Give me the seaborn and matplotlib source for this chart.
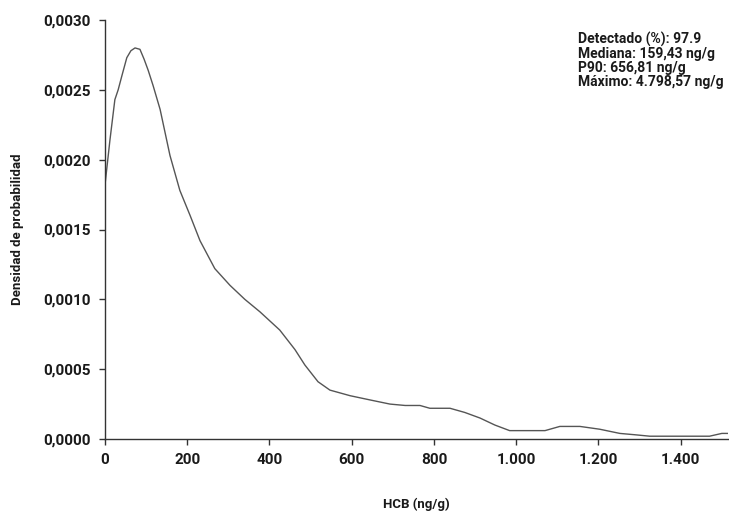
import matplotlib
matplotlib.use("Agg")
import matplotlib.pyplot as plt
import matplotlib.ticker as mticker
import seaborn as sns
import pandas as pd

hcb = [0, 12, 24, 32, 41, 53, 63, 73, 85, 95, 105, 117, 134, 158, 182, 207, 231, 267,
       304, 340, 377, 425, 462, 486, 518, 547, 596, 644, 693, 730, 766, 790, 839, 875,
       912, 948, 984, 1021, 1070, 1106, 1155, 1203, 1252, 1290, 1325, 1400, 1470, 1500, 1515]
density = [0.00182, 0.00214, 0.00243, 0.00250, 0.00260, 0.00273, 0.00278, 0.00280, 0.00279,
           0.00272, 0.00264, 0.00253, 0.00236, 0.00203, 0.00178, 0.00160, 0.00142, 0.00122,
           0.00110, 0.00100, 0.00091, 0.00078, 0.00064, 0.00053, 0.00041, 0.00035, 0.00031,
           0.00028, 0.00025, 0.00024, 0.00024, 0.00022, 0.00022, 0.00019, 0.00015, 0.00010,
           0.00006, 0.00006, 0.00006, 0.00009, 0.00009, 0.00007, 0.00004, 0.00003, 0.00002,
           0.00002, 0.00002, 0.00004, 0.00004]

xticks = [0, 200, 400, 600, 800, 1000, 1200, 1400]
yticks = [0.0, 0.0005, 0.0010, 0.0015, 0.0020, 0.0025, 0.0030]
stats_text = ["Detectado (%): 97.9", "Mediana: 159,43 ng/g",
              "P90: 656,81 ng/g", "Máximo: 4.798,57 ng/g"]

sns.set_style("ticks")
plt.rcParams['font.family'] = ['Roboto', 'DejaVu Sans']

df = pd.DataFrame({"HCB": hcb, "Densidad": density})

fig = plt.figure(figsize=(7.29, 5.16), dpi=100)
ax = fig.add_axes([105/729, (516-439)/516, (728-105)/729, (439-20)/516])
sns.lineplot(data=df, x="HCB", y="Densidad", ax=ax, color="#555555", linewidth=1.0)

ax.set_xlim(0, 1515)
ax.set_ylim(0, 0.003)
ax.set_xticks(xticks)
ax.set_yticks(yticks)

def fmt_x(v, pos):
    return f"{int(v):,}".replace(",", ".")

def fmt_y(v, pos):
    return f"{v:.4f}".replace(".", ",")

ax.xaxis.set_major_formatter(mticker.FuncFormatter(fmt_x))
ax.yaxis.set_major_formatter(mticker.FuncFormatter(fmt_y))

for s in ["top", "right"]:
    ax.spines[s].set_visible(False)
for s in ["left", "bottom"]:
    ax.spines[s].set_color("#333333")
    ax.spines[s].set_linewidth(1.0)

ax.tick_params(axis="both", direction="out", length=4, width=1, color="#333333",
               labelsize=11, labelcolor="#1a1a1a", pad=6)
for lab in ax.get_xticklabels() + ax.get_yticklabels():
    lab.set_fontweight("bold")

ax.set_xlabel("HCB (ng/g)", fontsize=9.5, fontweight="bold", color="#1a1a1a", labelpad=22)
ax.set_ylabel("Densidad de probabilidad", fontsize=9.5, fontweight="bold", color="#1a1a1a", labelpad=14)

fig.text(578/729, 1 - 32/516, "\n".join(stats_text), fontsize=10, fontweight="bold",
         color="#1a1a1a", va="top", ha="left", linespacing=1.0)

fig.savefig("out.png", dpi=100)
